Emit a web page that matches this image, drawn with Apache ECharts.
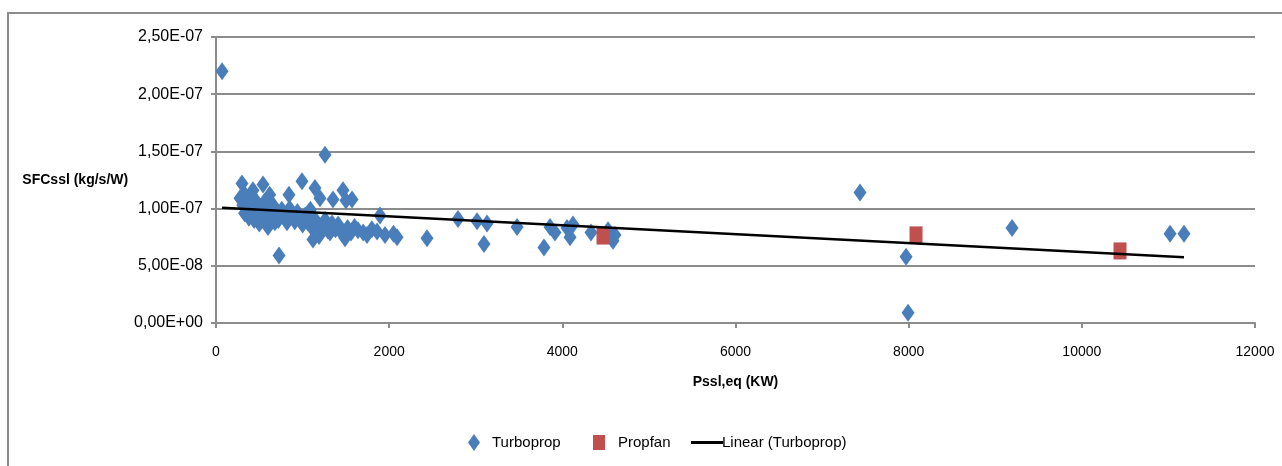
<!DOCTYPE html>
<html>
<head>
<meta charset="utf-8">
<title>SFC vs power</title>
<script src="https://cdn.jsdelivr.net/npm/echarts@6/dist/echarts.min.js"></script>
<style>
  html, body { margin: 0; padding: 0; background: #ffffff; }
  #chart { width: 1282px; height: 466px; }
</style>
</head>
<body>
<div id="chart"></div>
<script>
// Sea-level equivalent shaft power (kW) and specific fuel consumption (kg/s/W)
const turbopropPower = [
  70, 1259, 993, 7438, 9194, 11019, 11180, 7970, 7993, 728,
  300, 427, 543, 335, 450, 620, 843, 1143, 1201, 1467, 1501, 1571, 1351, 277, 1894,
  310, 330, 360, 380, 400, 420, 440, 460, 480, 500, 520, 540, 560, 580, 600, 620, 640, 660, 680, 700, 720,
  760, 790, 820, 850, 880, 910, 940, 970, 1000, 1030, 1060, 1090, 1110, 1140, 1170, 1190, 1120,
  1230, 1260, 1290, 1317, 1340, 1380, 1410, 1440, 1490, 1520, 1560, 1600, 1640, 1700, 1744,
  1800, 1860, 1952, 2050, 2091,
  2437, 2795, 3015, 3130, 3095, 3477, 3788, 3858, 3915, 4054, 4123, 4089, 4331, 4528, 4608, 4585
];
const turbopropSfc = [
  22.0e-8, 14.7e-8, 12.4e-8, 11.4e-8, 8.3e-8, 7.8e-8, 7.8e-8, 5.8e-8, 0.9e-8, 5.9e-8,
  12.2e-8, 11.6e-8, 12.1e-8, 11.2e-8, 10.8e-8, 11.2e-8, 11.2e-8, 11.8e-8, 10.9e-8, 11.6e-8, 10.7e-8, 10.8e-8, 10.8e-8, 10.9e-8, 9.4e-8,
  10.3e-8, 9.6e-8, 10.0e-8, 9.2e-8, 10.6e-8, 9.8e-8, 9.0e-8, 10.2e-8, 9.5e-8, 8.7e-8, 10.0e-8, 9.1e-8, 10.6e-8, 9.6e-8, 8.4e-8, 9.9e-8, 9.2e-8, 10.3e-8, 8.8e-8, 9.6e-8, 9.0e-8,
  9.9e-8, 9.3e-8, 8.8e-8, 10.0e-8, 9.4e-8, 8.9e-8, 9.7e-8, 9.1e-8, 8.6e-8, 9.4e-8, 8.8e-8, 9.9e-8, 8.3e-8, 9.1e-8, 8.6e-8, 7.6e-8, 7.3e-8,
  8.4e-8, 9.0e-8, 8.1e-8, 7.9e-8, 8.7e-8, 8.2e-8, 8.6e-8, 8.0e-8, 7.4e-8, 8.3e-8, 7.9e-8, 8.4e-8, 8.1e-8, 7.9e-8, 7.7e-8,
  8.2e-8, 8.0e-8, 7.7e-8, 7.8e-8, 7.5e-8,
  7.4e-8, 9.1e-8, 8.9e-8, 8.7e-8, 6.9e-8, 8.4e-8, 6.6e-8, 8.4e-8, 7.9e-8, 8.3e-8, 8.6e-8, 7.5e-8, 7.9e-8, 8.1e-8, 7.7e-8, 7.2e-8
];
const propfanPower = [4470, 8085, 10441];
const propfanSfc = [7.6e-8, 7.7e-8, 6.3e-8];

// Linear trend of the turboprop set, drawn between its end points
const trendPower = [70, 11180];
const trendSfc = [10.08e-8, 5.74e-8];

const xTicks = { min: 0, max: 12000, interval: 2000 };
const yTicks = { min: 0, max: 2.5e-7, interval: 5e-8 };

const zip = (xs, ys) => xs.map((x, i) => [x, ys[i]]);

// Scientific notation with a decimal comma, e.g. 2,50E-07
function sci(v) {
  if (v === 0) return '0,00E+00';
  const e = Math.floor(Math.log10(Math.abs(v)) + 1e-9);
  const m = v / Math.pow(10, e);
  return m.toFixed(2).replace('.', ',') + 'E' + (e < 0 ? '-' : '+') + String(Math.abs(e)).padStart(2, '0');
}

const gray = '#8c8c8c';
const font = 'Liberation Sans, Arial, sans-serif';
const blue = '#4a7ebb';
const red = '#c0504d';

const chart = echarts.init(document.getElementById('chart'), null, { renderer: 'canvas' });
chart.setOption({
  animation: false,
  backgroundColor: '#ffffff',
  graphic: [{
    type: 'rect',
    shape: { x: 8, y: 13, width: 1300, height: 480 },
    style: { fill: 'none', stroke: gray, lineWidth: 2 },
    silent: true,
    z: -10
  }],
  grid: { left: 216, right: 27, top: 37, bottom: 143, containLabel: false },
  xAxis: {
    type: 'value',
    min: xTicks.min, max: xTicks.max, interval: xTicks.interval,
    name: 'Pssl,eq (KW)',
    nameLocation: 'middle',
    nameGap: 52,
    nameTextStyle: { fontFamily: font, fontSize: 14, fontWeight: 'bold', color: '#000' },
    axisLine: { lineStyle: { color: gray, width: 2 } },
    axisTick: { show: true, length: 5, lineStyle: { color: gray, width: 2 } },
    axisLabel: { margin: 22, fontFamily: font, fontSize: 14, color: '#000', formatter: v => String(v) },
    splitLine: { show: false }
  },
  yAxis: {
    type: 'value',
    min: yTicks.min, max: yTicks.max, interval: yTicks.interval,
    name: 'SFCssl (kg/s/W)',
    nameLocation: 'middle',
    nameRotate: 0,
    nameGap: 86,
    nameTextStyle: { fontFamily: font, fontSize: 14, fontWeight: 'bold', color: '#000', align: 'right' },
    axisLine: { show: true, lineStyle: { color: gray, width: 2 } },
    axisTick: { show: true, length: 5, lineStyle: { color: gray, width: 2 } },
    axisLabel: { margin: 13, fontFamily: font, fontSize: 16, color: '#000', formatter: sci },
    splitLine: { show: true, lineStyle: { color: gray, width: 2 } }
  },
  legend: [
    {
      data: [{ name: 'Turboprop', icon: 'diamond' }],
      left: 468, top: 434, itemWidth: 12, itemHeight: 17, padding: 0,
      textStyle: { fontFamily: font, fontSize: 15, color: '#000', padding: [0, 0, 0, 7] },
      selectedMode: false
    },
    {
      data: [{ name: 'Propfan', icon: 'rect' }],
      left: 593, top: 435, itemWidth: 12, itemHeight: 15, padding: 0,
      textStyle: { fontFamily: font, fontSize: 15, color: '#000', padding: [0, 0, 0, 8] },
      selectedMode: false
    },
    {
      data: [{ name: 'Linear (Turboprop)', icon: 'path://M0,0H32V3H0Z' }],
      left: 691, top: 435, itemWidth: 32, itemHeight: 3, padding: 0,
      textStyle: { fontFamily: font, fontSize: 15, color: '#000', padding: [0, 0, 0, -6] },
      selectedMode: false
    }
  ],
  series: [
    {
      name: 'Turboprop',
      type: 'scatter',
      symbol: 'diamond',
      symbolSize: [13, 18],
      itemStyle: { color: blue, opacity: 1 },
      data: zip(turbopropPower, turbopropSfc),
      z: 2
    },
    {
      name: 'Propfan',
      type: 'scatter',
      symbol: 'rect',
      symbolSize: [13, 17],
      itemStyle: { color: red, opacity: 1 },
      data: zip(propfanPower, propfanSfc),
      z: 3
    },
    {
      name: 'Linear (Turboprop)',
      type: 'line',
      showSymbol: false,
      symbol: 'none',
      lineStyle: { color: '#000', width: 2.5 },
      itemStyle: { color: '#000' },
      data: zip(trendPower, trendSfc),
      z: 4
    }
  ]
});
</script>
</body>
</html>
